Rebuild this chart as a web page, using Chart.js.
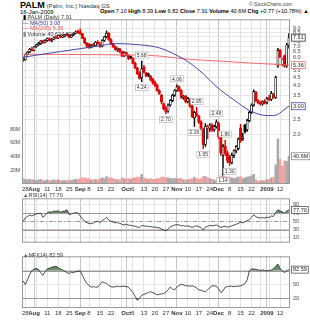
<!DOCTYPE html>
<html>
<head>
<meta charset="utf-8">
<script src="https://cdn.jsdelivr.net/npm/chart.js@4.4.1/dist/chart.umd.min.js"></script>
<style>
  body { margin: 0; background: #fff; }
  #wrap { position: relative; width: 310px; height: 320px; overflow: hidden; font-family: "Liberation Sans", Arial, sans-serif; }
  canvas { position: absolute; left: 0; }
  .t { position: absolute; white-space: nowrap; font-size: 6px; line-height: 1; color: #000; }
  .lg { position: absolute; white-space: nowrap; font-size: 5.5px; line-height: 5.6px; color: #333; }
</style>
</head>
<body>
<div id="wrap">
  <div class="t" style="left:20px;top:1px;"><b style="font-size:9px">PALM</b> <span style="color:#333">(Palm, Inc.) Nasdaq GS</span></div>
  <div class="t" style="left:249px;top:2px;font-size:5px;color:#444">© StockCharts.com</div>
  <div class="t" style="left:20px;top:9px;">16-Jan-2009</div>
  <div class="t" style="left:100px;top:9px;font-size:5.6px"><b>Open</b> 7.10 <b>High</b> 8.39 <b>Low</b> 6.82 <b>Close</b> 7.91 <b>Volume</b> 40.6M <b>Chg</b> +0.77 (+10.78%) ▲</div>

  <canvas id="main" width="310" height="182" style="top:13px"></canvas>
  <canvas id="rsi" width="310" height="57" style="top:192px"></canvas>
  <canvas id="mfi" width="310" height="70" style="top:250px"></canvas>

  <div class="lg" style="left:23px;top:15px;">
    <span style="color:#000">▮</span> PALM (Daily) 7.91<br>
    <span style="color:#3c3ca0">—</span> <span style="color:#3c3ca0">MA(50) 3.00</span><br>
    <span style="color:#f05050">—</span> <span style="color:#f05050">MA(200) 5.36</span><br>
    <span style="color:#888">▮</span> Volume 40,624,024
  </div>
  <div class="lg" style="left:23px;top:193px;"><span style="color:#3a6a3a">▲</span>RSI(14) 77.70</div>
  <div class="lg" style="left:23px;top:253px;"><span style="color:#3a6a3a">▲</span>MFI(14) 82.59</div>
</div>

<script>
// trading days, 25 Jul 2008 .. 16 Jan 2009
const months = {
  Jul: [25, 28, 29, 30, 31],
  Aug: [1, 4, 5, 6, 7, 8, 11, 12, 13, 14, 15, 18, 19, 20, 21, 22, 25, 26, 27, 28, 29],
  Sep: [2, 3, 4, 5, 8, 9, 10, 11, 12, 15, 16, 17, 18, 19, 22, 23, 24, 25, 26, 29, 30],
  Oct: [1, 2, 3, 6, 7, 8, 9, 10, 13, 14, 15, 16, 17, 20, 21, 22, 23, 24, 27, 28, 29, 30, 31],
  Nov: [3, 4, 5, 6, 7, 10, 11, 12, 13, 14, 17, 18, 19, 20, 21, 24, 25, 26, 28],
  Dec: [1, 2, 3, 4, 5, 8, 9, 10, 11, 12, 15, 16, 17, 18, 19, 22, 23, 24, 26, 29, 30, 31],
  Jan: [2, 5, 6, 7, 8, 9, 12, 13, 14, 15, 16],
};

const axisTicks = [
  ["Jul 28", "28"], ["Aug 1", "Aug"], ["Aug 4", ""], ["Aug 11", "11"], ["Aug 18", "18"], ["Aug 25", "25"],
  ["Sep 2", "Sep"], ["Sep 8", "8"], ["Sep 15", "15"], ["Sep 22", "22"], ["Sep 29", ""],
  ["Oct 1", "Oct"], ["Oct 6", "6"], ["Oct 13", "13"], ["Oct 20", "20"], ["Oct 27", "27"],
  ["Nov 3", "Nov"], ["Nov 10", "10"], ["Nov 17", "17"], ["Nov 24", "24"],
  ["Dec 1", "Dec"], ["Dec 8", "8"], ["Dec 15", "15"], ["Dec 22", "22"], ["Dec 29", ""],
  ["Jan 2", "2009"], ["Jan 5", ""], ["Jan 12", "12"],
];
const boldTicks = ["Aug", "Sep", "Oct", "Nov", "Dec", "2009"];

const open = [
  5.95, 5.8, 6.25, 6.45, 6.7, 6.6, 6.95, 7.15, 7.3, 7.55,
  7.4, 7.6, 7.8, 7.6, 7.7, 7.95, 7.85, 8.15, 7.95, 8.1,
  8.25, 8.2, 7.95, 8.2, 8.45, 8.6, 8.6, 8.35, 7.85, 7.3,
  7.2, 6.9, 7.1, 7.05, 7.4, 7.2, 7.0, 7.6, 8.0, 8.4,
  7.7, 7.25, 6.95, 6.7, 6.75, 6.5, 6.1, 6.4, 6.15, 6.05,
  5.9, 5.5, 5.15, 4.8, 4.5, 5.2, 4.8, 4.75, 4.6, 4.4,
  4.2, 4.05, 3.75, 3.5, 3.1, 2.9, 2.8, 3.05, 3.25, 3.5,
  3.75, 3.95, 3.75, 3.4, 3.45, 3.2, 3.3, 3.0, 2.55, 2.7,
  2.6, 2.4, 2.15, 1.75, 2.2, 2.2, 2.3, 2.15, 2.25, 2.35,
  1.95, 1.5, 1.7, 1.55, 1.45, 1.35, 1.5, 1.6, 1.65, 2.2,
  1.9, 2.3, 2.15, 2.45, 2.75, 3.05, 3.65, 3.25, 3.15, 3.1,
  3.2, 3.15, 3.35, 3.3, 3.5, 3.4, 5.3, 6.6, 5.4, 6.1, 5.3, 7.10,
];
const high = [
  6.0, 6.3, 6.5, 6.8, 6.9, 7.0, 7.2, 7.4, 7.6, 7.65,
  7.7, 7.85, 7.9, 7.8, 8.0, 8.1, 8.2, 8.25, 8.2, 8.3,
  8.4, 8.3, 8.25, 8.5, 8.7, 8.8, 8.95, 8.4, 7.9, 7.4,
  7.3, 7.2, 7.3, 7.5, 7.6, 7.4, 7.7, 8.1, 8.7, 8.5,
  7.8, 7.3, 7.05, 6.85, 6.8, 6.55, 6.5, 6.45, 6.2, 6.1,
  5.95, 5.6, 5.2, 4.9, 5.68, 5.35, 4.85, 4.8, 4.65, 4.45,
  4.3, 4.1, 3.8, 3.55, 3.15, 3.0, 3.1, 3.3, 3.55, 3.8,
  4.06, 4.0, 3.8, 3.5, 3.5, 3.4, 3.35, 3.05, 2.8, 2.95,
  2.65, 2.45, 2.2, 2.35, 2.3, 2.35, 2.35, 2.3, 2.48, 2.4,
  2.0, 1.75, 1.86, 1.6, 1.5, 1.55, 1.62, 1.72, 1.92, 2.32,
  2.05, 2.32, 2.5, 2.8, 3.1, 3.78, 3.7, 3.3, 3.2, 3.25,
  3.3, 3.4, 3.5, 3.7, 3.6, 4.6, 6.8, 6.7, 5.9, 6.2, 7.3, 8.39,
];
const low = [
  5.65, 5.75, 6.2, 6.4, 6.55, 6.55, 6.9, 7.05, 7.2, 7.3,
  7.35, 7.5, 7.55, 7.45, 7.65, 7.8, 7.8, 7.9, 7.9, 8.0,
  8.1, 7.9, 7.9, 8.15, 8.35, 8.4, 8.3, 7.8, 7.3, 6.9,
  6.8, 6.85, 6.95, 7.0, 7.2, 6.9, 6.95, 7.5, 7.9, 7.6,
  7.2, 6.9, 6.6, 6.5, 6.4, 6.05, 6.05, 6.1, 5.8, 5.85,
  5.45, 5.1, 4.7, 4.4, 4.24, 4.8, 4.55, 4.55, 4.3, 4.1,
  3.95, 3.7, 3.55, 3.1, 2.85, 2.70, 2.75, 3.0, 3.2, 3.45,
  3.7, 3.7, 3.35, 3.3, 3.15, 3.15, 2.95, 2.55, 2.26, 2.6,
  2.35, 2.15, 1.65, 1.7, 1.9, 2.1, 2.1, 2.1, 2.2, 1.9,
  1.5, 1.14, 1.5, 1.35, 1.30, 1.33, 1.45, 1.55, 1.62, 1.8,
  1.85, 2.05, 2.1, 2.4, 2.7, 3.0, 3.2, 3.1, 3.05, 3.05,
  3.1, 3.1, 3.25, 3.25, 3.35, 3.35, 5.2, 5.95, 5.3, 5.2, 5.2, 6.82,
];
const close = [
  5.7, 6.25, 6.45, 6.7, 6.6, 6.95, 7.15, 7.3, 7.55, 7.4,
  7.6, 7.8, 7.6, 7.7, 7.95, 7.85, 8.15, 7.95, 8.1, 8.25,
  8.2, 7.95, 8.2, 8.45, 8.6, 8.5, 8.35, 7.85, 7.35, 7.05,
  6.9, 7.1, 7.05, 7.4, 7.3, 7.0, 7.6, 8.0, 8.4, 7.7,
  7.25, 6.95, 6.7, 6.75, 6.5, 6.1, 6.4, 6.15, 5.9, 5.95,
  5.5, 5.15, 4.75, 4.45, 5.1, 4.85, 4.6, 4.65, 4.4, 4.2,
  4.05, 3.75, 3.6, 3.2, 2.9, 2.78, 3.05, 3.25, 3.5, 3.75,
  3.95, 3.75, 3.4, 3.45, 3.2, 3.35, 3.0, 2.6, 2.75, 2.65,
  2.4, 2.2, 1.75, 2.25, 2.2, 2.3, 2.15, 2.25, 2.4, 1.95,
  1.55, 1.7, 1.55, 1.4, 1.35, 1.5, 1.6, 1.7, 1.88, 1.85,
  1.95, 2.1, 2.45, 2.75, 3.05, 3.7, 3.25, 3.15, 3.1, 3.2,
  3.15, 3.35, 3.3, 3.6, 3.4, 4.5, 6.6, 6.0, 5.85, 5.3, 7.14, 7.91,
];
const prevClose0 = 5.9; // close before the first day shown

// volume in millions
const volume = [
  8, 7, 6, 7, 6, 6, 5, 6, 7, 5,
  5, 6, 5, 5, 6, 5, 6, 5, 5, 5,
  5, 6, 5, 6, 7, 6, 8, 9, 9, 8,
  8, 6, 6, 7, 6, 8, 9, 8, 11, 9,
  9, 8, 7, 6, 6, 9, 8, 7, 8, 7,
  9, 9, 10, 10, 14, 9, 8, 7, 8, 7,
  7, 8, 8, 10, 10, 9, 9, 8, 8, 8,
  8, 8, 8, 6, 6, 6, 7, 8, 10, 8,
  7, 8, 11, 11, 9, 8, 7, 6, 4, 9,
  12, 15, 11, 10, 10, 9, 8, 9, 10, 11,
  8, 9, 10, 11, 12, 14, 6, 4, 5, 5,
  5, 6, 7, 9, 10, 28, 66, 36, 26, 34, 33, 40.6,
];

// moving averages read at a few days
const maDay = [0, 6, 17, 26, 35, 42, 53, 62, 69, 76, 82, 88, 96, 103, 111, 114, 121];
const ma50 = [6.0, 6.17, 6.5, 6.77, 7.05, 7.27, 7.15, 6.85, 6.25, 5.52, 4.74, 3.96, 3.28, 2.83, 2.63, 2.63, 3.00];
const ma200 = [6.25, 6.25, 6.24, 6.23, 6.22, 6.2, 6.18, 6.1, 5.95, 5.82, 5.75, 5.69, 5.61, 5.53, 5.46, 5.43, 5.36];

const rsi = [
  50, 58, 62, 65, 63, 66, 68, 69, 70, 60,
  64, 71, 73, 72, 75, 74, 76, 72, 74, 75,
  78, 66, 68, 70, 71, 70, 63, 56, 50, 47,
  45, 44, 46, 49, 50, 47, 52, 55, 60, 53,
  50, 48, 46, 47, 45, 43, 41, 43, 41, 40,
  39, 38, 36, 35, 40, 39, 38, 38, 37, 36,
  36, 35, 34, 31, 29, 27, 31, 36, 39, 41,
  42, 41, 39, 40, 38, 39, 37, 35, 38, 39,
  37, 35, 29, 36, 38, 40, 39, 40, 41, 38,
  35, 37, 38, 36, 37, 39, 41, 43, 45, 48,
  46, 49, 52, 54, 60, 66, 61, 59, 58, 59,
  58, 60, 59, 63, 62, 72, 78, 75, 73, 70, 75, 77.7,
];
const mfi = [
  58, 50, 60, 72, 80, 84, 85, 83, 76, 70,
  78, 84, 86, 88, 89, 90, 87, 84, 82, 79,
  76, 74, 77, 76, 78, 79, 80, 70, 60, 52,
  48, 44, 45, 44, 44, 50, 56, 54, 52, 48,
  45, 44, 45, 46, 45, 46, 46, 45, 44, 38,
  32, 24, 15, 20, 26, 28, 30, 32, 34, 32,
  30, 27, 28, 29, 30, 33, 38, 44, 40, 38,
  44, 48, 50, 49, 47, 47, 46, 47, 45, 42,
  38, 37, 35, 34, 38, 43, 47, 47, 46, 40,
  32, 36, 44, 45, 46, 46, 45, 46, 46, 47,
  49, 52, 60, 80, 84, 84, 83, 82, 81, 82,
  81, 80, 81, 82, 84, 90, 95, 85, 80, 76, 80, 82.59,
];

// labelled highs and lows: [day, price]
const marks = [[54, 5.68], [54, 4.24], [65, 2.70], [70, 4.06], [78, 2.26], [79, 2.95],
  [82, 1.65], [88, 2.48], [91, 1.14], [92, 1.86], [94, 1.30]];

const priceTicks = [2.0, 2.5, 3.0, 3.5, 4.0, 4.5, 5.0, 5.5, 6.0, 6.5, 7.0, 7.5, 8.0, 8.5, 9.0];
const volTicks = [20, 40, 60, 80];
const rsiTicks = [10, 30, 50, 70, 90];
const mfiTicks = [20, 50, 80];

// ---------------------------------------------------------------
const FONT = '"Liberation Sans", Arial, sans-serif';
const days = [];
Object.keys(months).forEach((m) => months[m].forEach((d) => days.push(m + " " + d)));
const tickText = {};
axisTicks.forEach(([d, t]) => { tickText[days.indexOf(d)] = t; });
const last = days.length - 1;

const RED = "#e00000";
const candleCol = close.map((c, i) => (c < (i ? close[i - 1] : prevClose0) ? RED : "#000"));
const hollow = close.map((c, i) => c >= open[i]);

function sparse(vals) {
  const out = days.map(() => null);
  maDay.forEach((d, k) => { out[d] = vals[k]; });
  return out;
}

function xAxis(show, h) {
  return {
    type: "category",
    offset: true,
    grid: {
      offset: false,
      drawTicks: false,
      color: (c) => {
        const t = tickText[c.index];
        if (t === undefined) return "rgba(0,0,0,0)";
        return boldTicks.includes(t) ? "#c4c4c4" : "#e2e2e2";
      },
    },
    border: { display: false },
    ticks: {
      display: show,
      autoSkip: false,
      maxRotation: 0,
      padding: 2,
      color: "#333",
      font: (c) => ({ family: FONT, size: 6, weight: boldTicks.includes(tickText[c.index]) ? "bold" : "normal" }),
      callback: (v, i) => tickText[i] ?? "",
    },
    afterFit: (s) => { s.height = h; },
  };
}

function fixedTicks(list) {
  return (s) => { s.ticks = list.map((v) => ({ value: v })); };
}

function drawBox(ctx, x, y, text, color) {
  ctx.save();
  ctx.font = "5.5px " + FONT;
  const w = ctx.measureText(text).width + 3;
  ctx.fillStyle = "#fff";
  ctx.fillRect(x, y - 3.5, w, 7);
  ctx.strokeStyle = color;
  ctx.lineWidth = 0.8;
  ctx.strokeRect(x + 0.5, y - 3.5, w, 7);
  ctx.fillStyle = "#222";
  ctx.textBaseline = "middle";
  ctx.fillText(text, x + 2, y + 0.3);
  ctx.restore();
}

const frame = {
  id: "frame",
  afterDraw(chart) {
    const { ctx, chartArea: a } = chart;
    ctx.save();
    ctx.strokeStyle = "#9a9a9a";
    ctx.lineWidth = 1;
    ctx.strokeRect(a.left + 0.5, a.top + 0.5, a.right - a.left - 1, a.bottom - a.top - 1);
    ctx.restore();
  },
};

function levels(solid, dashed) {
  return {
    id: "levels",
    beforeDatasetsDraw(chart) {
      const { ctx, chartArea: a, scales } = chart;
      ctx.save();
      ctx.strokeStyle = "#999";
      ctx.lineWidth = 1;
      solid.concat(dashed).forEach((v) => {
        const y = Math.round(scales.y.getPixelForValue(v)) + 0.5;
        ctx.setLineDash(dashed.includes(v) ? [4, 2, 1, 2] : []);
        ctx.beginPath();
        ctx.moveTo(a.left, y);
        ctx.lineTo(a.right, y);
        ctx.stroke();
      });
      ctx.restore();
    },
  };
}

function sideBoxes(list) {
  return {
    id: "sideBoxes",
    afterDraw(chart) {
      const x = chart.chartArea.right + 1;
      list().forEach((b) => {
        drawBox(chart.ctx, x, chart.scales[b.axis].getPixelForValue(b.value), b.text, b.color);
      });
    },
  };
}

const hiLo = {
  id: "hiLo",
  afterDatasetsDraw(chart) {
    const { ctx, scales } = chart;
    ctx.save();
    ctx.font = "5px " + FONT;
    ctx.textBaseline = "middle";
    marks.forEach(([d, v]) => {
      const txt = v.toFixed(2);
      const w = ctx.measureText(txt).width + 3;
      const x = scales.x.getPixelForValue(d);
      const py = scales.y.getPixelForValue(v);
      const y = v === high[d] ? py - 6 : py + 6;
      ctx.fillStyle = "#fff";
      ctx.fillRect(x - w / 2, y - 3, w, 6);
      ctx.strokeStyle = "#aaa";
      ctx.lineWidth = 0.6;
      ctx.strokeRect(x - w / 2, y - 3, w, 6);
      ctx.fillStyle = "#333";
      ctx.textAlign = "center";
      ctx.fillText(txt, x, y + 0.3);
    });
    ctx.restore();
  },
};

Chart.defaults.font.family = FONT;

// ---------------------------------------------------------------- price + volume
new Chart(document.getElementById("main"), {
  type: "bar",
  data: {
    labels: days,
    datasets: [
      {
        type: "line",
        label: "MA(50)",
        data: sparse(ma50),
        yAxisID: "y",
        borderColor: "#4646a8",
        borderWidth: 1,
        pointRadius: 0,
        spanGaps: true,
        cubicInterpolationMode: "monotone",
        order: 1,
      },
      {
        type: "line",
        label: "MA(200)",
        data: sparse(ma200),
        yAxisID: "y",
        borderColor: "#f46a6a",
        borderWidth: 1,
        pointRadius: 0,
        spanGaps: true,
        cubicInterpolationMode: "monotone",
        order: 2,
      },
      {
        label: "body",
        data: open.map((o, i) => [o, close[i]]),
        yAxisID: "y",
        backgroundColor: hollow.map((h, i) => (h ? "#fff" : candleCol[i])),
        borderColor: candleCol,
        borderWidth: hollow.map((h) => (h ? 0.8 : 0)),
        borderSkipped: false,
        barThickness: 2.2,
        minBarLength: 1,
        grouped: false,
        order: 3,
      },
      {
        label: "wick",
        data: low.map((l, i) => [l, high[i]]),
        yAxisID: "y",
        backgroundColor: candleCol,
        barThickness: 0.8,
        grouped: false,
        order: 4,
      },
      {
        label: "Volume",
        data: volume,
        yAxisID: "yv",
        backgroundColor: candleCol.map((c) => (c === RED ? "#f2a0a0" : "#a8a8a8")),
        barThickness: 1.8,
        grouped: false,
        order: 10,
      },
    ],
  },
  options: {
    responsive: false,
    animation: false,
    devicePixelRatio: 1,
    layout: { padding: { top: 1 } },
    plugins: { legend: { display: false }, tooltip: { enabled: false } },
    scales: {
      x: xAxis(true, 11),
      y: {
        type: "logarithmic",
        position: "right",
        min: 1.0,
        max: 10.25,
        afterBuildTicks: fixedTicks(priceTicks),
        ticks: { callback: (v) => Number(v).toFixed(1), font: { size: 5.5 }, color: "#444", padding: 3 },
        grid: { color: "#e6e6e6", drawTicks: false },
        border: { display: false },
        afterFit: (s) => { s.width = 20; },
      },
      yv: {
        type: "linear",
        position: "left",
        min: 0,
        max: 241,
        afterBuildTicks: fixedTicks(volTicks),
        ticks: { callback: (v) => v + "M", font: { size: 5 }, color: "#444", padding: 2 },
        grid: { drawOnChartArea: false, drawTicks: false },
        border: { display: false },
        afterFit: (s) => { s.width = 22; },
      },
    },
  },
  plugins: [frame, hiLo, sideBoxes(() => [
    { axis: "y", value: close[last], text: close[last].toFixed(2), color: "#333" },
    { axis: "y", value: ma200[ma200.length - 1], text: ma200[ma200.length - 1].toFixed(2), color: "#f46a6a" },
    { axis: "y", value: ma50[ma50.length - 1], text: ma50[ma50.length - 1].toFixed(2), color: "#4646a8" },
    { axis: "yv", value: volume[last], text: volume[last].toFixed(1) + "M", color: "#888" },
  ])],
});

// ---------------------------------------------------------------- oscillators
function oscillator(id, values, lo, hi, min, max, ticks, dashed, xh, padTop) {
  new Chart(document.getElementById(id), {
    type: "line",
    data: {
      labels: days,
      datasets: [
        {
          data: values,
          borderColor: "#222",
          borderWidth: 0.8,
          pointRadius: 0,
          fill: { target: { value: hi }, above: "#6b8f6b", below: "rgba(0,0,0,0)" },
        },
        {
          data: values,
          borderWidth: 0,
          pointRadius: 0,
          fill: { target: { value: lo }, above: "rgba(0,0,0,0)", below: "#a86060" },
        },
      ],
    },
    options: {
      responsive: false,
      animation: false,
      devicePixelRatio: 1,
      layout: { padding: { left: 22, top: padTop } },
      plugins: { legend: { display: false }, tooltip: { enabled: false } },
      scales: {
        x: xAxis(xh > 0, xh),
        y: {
          position: "right",
          min: min,
          max: max,
          afterBuildTicks: fixedTicks(ticks),
          ticks: { font: { size: 5.5 }, color: "#444", padding: 3 },
          grid: { color: "#e6e6e6", drawTicks: false },
          border: { display: false },
          afterFit: (s) => { s.width = 20; },
        },
      },
    },
    plugins: [levels([lo, hi], dashed), frame, sideBoxes(() => [
      { axis: "y", value: values[last], text: values[last].toFixed(2), color: "#555" },
    ])],
  });
}

oscillator("rsi", rsi, 30, 70, -2, 106, rsiTicks, [50], 0, 0);
oscillator("mfi", mfi, 20, 80, -2, 112, mfiTicks, [], 12, 1);
</script>
</body>
</html>
